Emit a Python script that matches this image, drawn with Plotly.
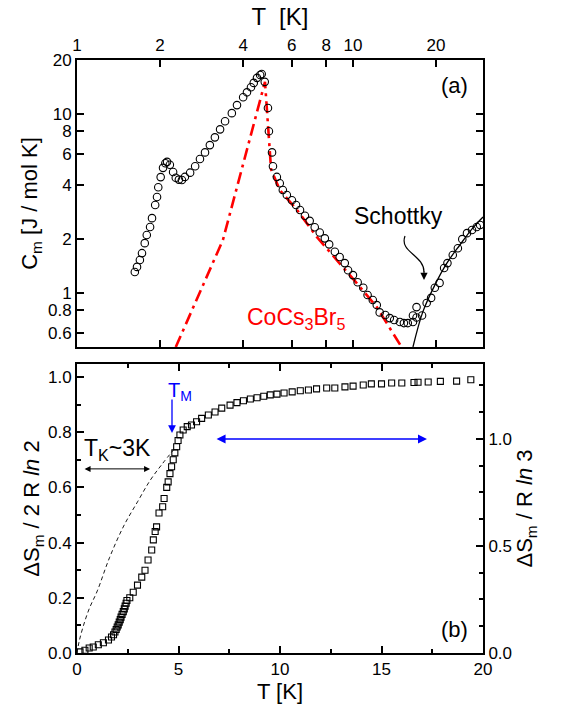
import plotly.graph_objects as go
import math

# ---------------- data ----------------
# (a) magnetic specific heat, circles
T_a = [1.62, 1.65, 1.69, 1.72, 1.76, 1.79, 1.84, 1.87, 1.92, 1.95, 1.97, 2.01, 2.05, 2.09, 2.12,
       2.17, 2.23, 2.28, 2.34, 2.40, 2.46, 2.57, 2.68, 2.79, 2.91, 3.03, 3.16, 3.30, 3.44, 3.64,
       3.80, 4.00, 4.13, 4.27, 4.37, 4.49, 4.61, 4.67, 4.79, 4.92, 4.96, 5.09, 5.13, 5.30, 5.43,
       5.57, 5.76, 6.01, 6.22, 6.43, 6.70, 6.97, 7.27, 7.58, 7.91, 8.20, 8.6, 8.95, 9.34, 9.6,
       10.0, 10.4, 10.9, 11.3, 11.8, 12.2, 12.5, 13.1, 13.6, 14.1, 14.8, 15.3, 15.8, 16.5, 16.5,
       17.0, 17.0, 17.8, 18.5, 19.2, 19.8, 20.6, 21.4, 22.0, 23.0, 24.0, 24.9, 25.9, 27.0, 28.1, 28.9]
C_a = [1.31, 1.40, 1.53, 1.67, 1.90, 2.11, 2.34, 2.62, 3.10, 3.44, 3.90, 4.44, 5.0, 5.3, 5.4,
       5.2, 4.74, 4.4, 4.3, 4.28, 4.45, 4.70, 5.1, 5.6, 6.1, 6.7, 7.4, 8.2, 9.1, 10.1,
       11.2, 12.4, 13.2, 14.1, 14.9, 15.9, 16.5, 16.7, 15.1, 10.8, 8.0, 6.1, 5.1, 4.45, 4.1,
       3.76, 3.53, 3.3, 3.1, 2.91, 2.70, 2.53, 2.33, 2.18, 2.02, 1.87, 1.70, 1.59, 1.47, 1.34,
       1.26, 1.15, 1.07, 0.975, 0.915, 0.857, 0.78, 0.754, 0.725, 0.707, 0.69, 0.68, 0.68, 0.69, 0.75,
       0.73, 0.835, 0.75, 0.88, 0.94, 1.07, 1.14, 1.38, 1.47, 1.63, 1.78, 2.0, 2.16, 2.25, 2.34, 2.40]

# CoCs3Br5 (red dash-dot)
T_ref = [2.28, 3.38, 4.80, 4.95, 5.05, 5.43, 6.27, 7.41, 8.76, 10.3, 12.2, 15.0]
C_ref = [0.5, 1.98, 15.1, 7.0, 4.9, 3.76, 2.91, 2.05, 1.53, 1.14, 0.835, 0.5]

# Schottky (solid black)
T_sch = [16.5, 17.9, 19.8, 21.9, 24.4, 27.2, 29.6]
C_sch = [0.5, 0.783, 1.108, 1.47, 1.855, 2.31, 2.66]

# (b) entropy, squares
T_b = [0.15, 0.39, 0.60, 0.80, 1.05, 1.30, 1.55, 1.70, 1.80, 1.87, 1.93, 1.98, 2.03, 2.08, 2.13,
       2.17, 2.22, 2.28, 2.33, 2.37, 2.42, 2.46, 2.60, 2.77, 2.98, 3.19, 3.35, 3.50, 3.68, 3.76,
       3.85, 3.92, 4.04, 4.22, 4.29, 4.42, 4.49, 4.58, 4.66, 4.74, 4.82, 4.91, 4.98, 5.07, 5.23,
       5.43, 5.64, 5.89, 6.14, 6.47, 6.80, 7.13, 7.54, 7.88, 8.20, 8.54, 8.87, 9.20, 9.52, 9.85,
       10.2, 10.6, 11.0, 11.4, 11.8, 12.3, 12.7, 13.2, 13.6, 14.1, 14.5, 15.0, 15.5, 16.0, 16.6,
       16.8, 17.3, 17.9, 18.7, 19.4]
S_b = [0.004, 0.010, 0.018, 0.022, 0.030, 0.037, 0.047, 0.058, 0.066, 0.076, 0.085, 0.094, 0.102, 0.112, 0.121,
       0.130, 0.140, 0.150, 0.160, 0.170, 0.180, 0.190, 0.200, 0.220, 0.246, 0.275, 0.300, 0.337, 0.373, 0.410,
       0.440, 0.457, 0.507, 0.530, 0.560, 0.600, 0.620, 0.650, 0.675, 0.700, 0.725, 0.747, 0.770, 0.790, 0.808,
       0.820, 0.826, 0.838, 0.850, 0.862, 0.873, 0.887, 0.898, 0.907, 0.914, 0.920, 0.925, 0.930, 0.935, 0.938,
       0.942, 0.946, 0.950, 0.953, 0.957, 0.960, 0.960, 0.964, 0.967, 0.971, 0.975, 0.975, 0.978, 0.978, 0.980,
       0.981, 0.982, 0.984, 0.985, 0.990]

# Kondo-like dashed curve
T_k = [0.0, 0.1, 0.3, 0.6, 1.0, 1.6, 2.3, 3.0, 3.6, 4.2, 4.8]
S_k = [0.0, 0.04, 0.095, 0.16, 0.225, 0.345, 0.46, 0.55, 0.625, 0.685, 0.74]

top_ticks = [1, 2, 4, 6, 8, 10, 20]
c_ticks = [0.6, 0.8, 1, 2, 4, 6, 8, 10, 20]

# ---------------- geometry ----------------
W, H = 568, 712
L, R, TOP, BOT = 77, 483, 60, 653
def px(x):
    return (x - L) / (R - L)
def py(y):
    return (BOT - y) / (BOT - TOP)

FONT = "Liberation Sans, Arial, sans-serif"
tickfont = dict(family=FONT, size=17, color="black")
titlefont = dict(family=FONT, size=22, color="black")

fig = go.Figure()

fig.add_trace(go.Scatter(x=T_ref, y=C_ref, mode="lines", xaxis="x", yaxis="y",
                         line=dict(color="#ff0000", width=2.6, dash="12px,5px,3px,5px"),
                         showlegend=False))
fig.add_trace(go.Scatter(x=T_sch, y=C_sch, mode="lines", xaxis="x", yaxis="y",
                         line=dict(color="black", width=1.3), line_shape="spline", showlegend=False))
fig.add_trace(go.Scatter(x=T_a, y=C_a, mode="markers", xaxis="x", yaxis="y",
                         marker=dict(symbol="circle-open", size=7.5, color="black",
                                     line=dict(width=1.1, color="black")),
                         showlegend=False))

fig.add_trace(go.Scatter(x=T_k, y=S_k, mode="lines", xaxis="x2", yaxis="y2",
                         line=dict(color="black", width=0.9, dash="4px,3px"), line_shape="spline",
                         showlegend=False))
fig.add_trace(go.Scatter(x=T_b, y=S_b, mode="markers", xaxis="x2", yaxis="y2",
                         marker=dict(symbol="square-open", size=6, color="black",
                                     line=dict(width=1.1, color="black")),
                         showlegend=False))
# dummy to activate right axis
fig.add_trace(go.Scatter(x=[None], y=[None], xaxis="x2", yaxis="y3", showlegend=False))

axcommon = dict(showline=True, linecolor="black", linewidth=2, ticks="inside", ticklen=7,
                tickwidth=1.5, tickcolor="black", showgrid=False, zeroline=False,
                tickfont=tickfont)

top_dom = [py(347), 1.0]
bot_dom = [0.0, py(364)]

fig.update_layout(
    width=W, height=H,
    margin=dict(l=L, r=W - R, t=TOP, b=H - BOT, pad=0),
    paper_bgcolor="white", plot_bgcolor="white",
    xaxis=dict(axcommon, type="log", range=[0, math.log10(29.6)], side="top", anchor="y",
               domain=[0, 1], mirror="ticks", tickvals=top_ticks,
               ticktext=[str(v) for v in top_ticks],
               title=dict(text="T  [K]", font=dict(family=FONT, size=24, color="black"), standoff=4)),
    yaxis=dict(axcommon, type="log", range=[math.log10(0.5), math.log10(20)], anchor="x",
               domain=top_dom, mirror="ticks", tickvals=c_ticks,
               ticktext=[str(v) for v in c_ticks],
               title=dict(text="C<sub>m</sub> [J / mol K]", font=titlefont, standoff=4)),
    xaxis2=dict(axcommon, range=[0, 20], anchor="y2", domain=[0, 1], mirror="ticks",
                tickvals=[0, 5, 10, 15, 20],
                minor=dict(tickvals=[2.5, 7.5, 12.5, 17.5], ticks="inside", ticklen=4,
                           tickwidth=1.5, tickcolor="black"),
                title=dict(text="T [K]", font=titlefont, standoff=4)),
    yaxis2=dict(axcommon, range=[0, 1.047], anchor="x2", domain=bot_dom, dtick=0.2,
                tickformat=".1f",
                minor=dict(dtick=0.1, ticks="inside", ticklen=4, tickwidth=1.5, tickcolor="black"),
                title=dict(text="ΔS<sub>m</sub> / 2 R <i>ln</i> 2", font=titlefont, standoff=2)),
    yaxis3=dict(axcommon, range=[0, 1.35], anchor="x2", overlaying="y2", side="right",
                dtick=0.5, tickformat=".1f",
                minor=dict(dtick=0.125, ticks="inside", ticklen=4, tickwidth=1.5, tickcolor="black"),
                title=dict(text="ΔS<sub>m</sub> / R <i>ln</i> 3", font=titlefont, standoff=0)),
)

ann = []
def text(x, y, s, size=22, color="black"):
    ann.append(dict(x=px(x), y=py(y), xref="paper", yref="paper", text=s, showarrow=False,
                    font=dict(family=FONT, size=size, color=color),
                    xanchor="center", yanchor="middle"))

text(454, 85, "(a)")
text(398, 216, "Schottky", size=23)
text(296, 318, "CoCs<sub>3</sub>Br<sub>5</sub>", size=23, color="#ff0000")
text(454, 629, "(b)")
text(117, 449, "T<sub>K</sub>~3K", size=23)
text(180, 391, "T<sub>M</sub>", size=20, color="#0000ff")

# Schottky curly arrow
fig.add_shape(type="path", xref="paper", yref="paper",
              path=f"M {px(405)},{py(236)} C {px(399)},{py(252)} {px(424)},{py(255)} {px(424)},{py(272)}",
              line=dict(color="black", width=1.2))
ann.append(dict(x=px(424), y=py(280), xref="paper", yref="paper", ax=0, ay=-10, text="",
                showarrow=True, arrowhead=2, arrowsize=1.2, arrowwidth=1.2, arrowcolor="black"))

# T_M blue arrow (down)
ann.append(dict(x=4.68, y=0.797, xref="x2", yref="y2", ax=0, ay=-35, text="",
                showarrow=True, arrowhead=2, arrowsize=1.2, arrowwidth=1.3, arrowcolor="#0000ff"))
# T_K double arrow
ann.append(dict(x=3.6, y=0.667, xref="x2", yref="y2", ax=0.3, ay=0.667, axref="x2", ayref="y2",
                text="", showarrow=True, arrowhead=2, startarrowhead=2, arrowside="end+start",
                arrowsize=1.2, arrowwidth=1.0, arrowcolor="black"))
# blue double arrow
ann.append(dict(x=17.24, y=0.775, xref="x2", yref="y2", ax=6.8, ay=0.775, axref="x2", ayref="y2",
                text="", showarrow=True, arrowhead=2, startarrowhead=2, arrowside="end+start",
                arrowsize=1.2, arrowwidth=1.5, arrowcolor="#0000ff"))

fig.update_layout(annotations=ann)
fig.write_html("out.html")
